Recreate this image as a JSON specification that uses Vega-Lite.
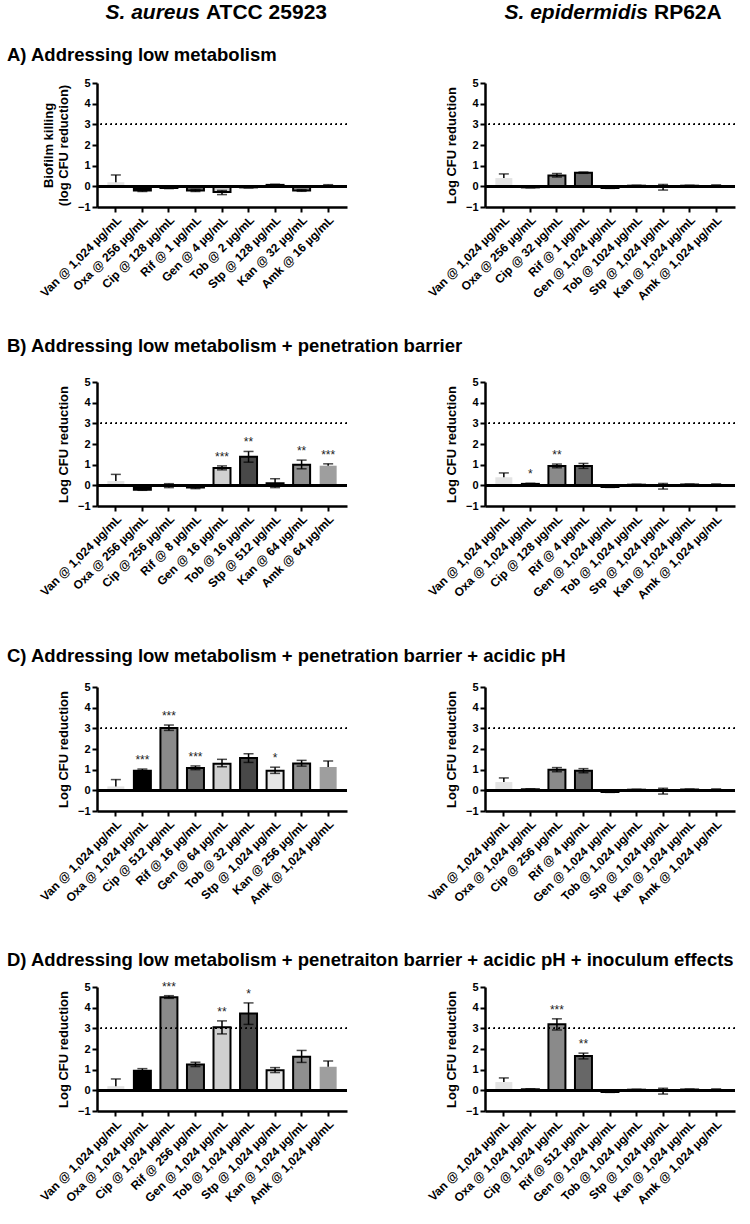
{
  "$schema": "https://vega.github.io/schema/vega-lite/v6.json",
  "padding": {"left": 7, "top": 1, "right": 5, "bottom": 5},
  "background": "white",
  "config": {
    "font": "Liberation Sans",
    "view": {"stroke": null},
    "axis": {"domainColor": "black", "domainWidth": 2.5, "tickColor": "black", "tickWidth": 2, "tickSize": 5, "labelColor": "black", "labelFontWeight": "bold", "titleFontWeight": "bold", "titleColor": "black", "grid": false},
    "axisY": {"labelFontSize": 11, "titleFontSize": 13, "labelPadding": 2, "titlePadding": 7},
    "axisX": {"labelAngle": -45, "labelFontSize": 12, "labelPadding": 2},
    "scale": {"bandPaddingInner": 0.36, "bandPaddingOuter": 0.39},
    "title": {"fontSize": 18.5, "fontWeight": "bold", "anchor": "start", "frame": "group", "dx": -90, "color": "black", "offset": 8}
  },
  "datasets": {
    "aA": [
      {"drug": "Van", "label": "Van @ 1,024 µg/mL", "mean": 0.2, "lo": 0.2, "hi": 0.55, "sig": ""},
      {"drug": "Oxa", "label": "Oxa @ 256 µg/mL", "mean": -0.2, "lo": -0.25, "hi": -0.15, "sig": ""},
      {"drug": "Cip", "label": "Cip @ 128 µg/mL", "mean": -0.08, "lo": -0.11, "hi": -0.05, "sig": ""},
      {"drug": "Rif", "label": "Rif @ 1 µg/mL", "mean": -0.2, "lo": -0.25, "hi": -0.15, "sig": ""},
      {"drug": "Gen", "label": "Gen @ 4 µg/mL", "mean": -0.28, "lo": -0.4, "hi": -0.2, "sig": ""},
      {"drug": "Tob", "label": "Tob @ 2 µg/mL", "mean": -0.05, "lo": -0.08, "hi": -0.03, "sig": ""},
      {"drug": "Stp", "label": "Stp @ 128 µg/mL", "mean": 0.07, "lo": 0.04, "hi": 0.1, "sig": ""},
      {"drug": "Kan", "label": "Kan @ 32 µg/mL", "mean": -0.2, "lo": -0.24, "hi": -0.16, "sig": ""},
      {"drug": "Amk", "label": "Amk @ 16 µg/mL", "mean": 0.05, "lo": 0.05, "hi": 0.08, "sig": ""}
    ],
    "eA": [
      {"drug": "Van", "label": "Van @ 1,024 µg/mL", "mean": 0.4, "lo": 0.4, "hi": 0.6, "sig": ""},
      {"drug": "Oxa", "label": "Oxa @ 256 µg/mL", "mean": -0.05, "lo": -0.07, "hi": -0.03, "sig": ""},
      {"drug": "Cip", "label": "Cip @ 32 µg/mL", "mean": 0.52, "lo": 0.45, "hi": 0.62, "sig": ""},
      {"drug": "Rif", "label": "Rif @ 1 µg/mL", "mean": 0.66, "lo": 0.63, "hi": 0.69, "sig": ""},
      {"drug": "Gen", "label": "Gen @ 1,024 µg/mL", "mean": -0.08, "lo": -0.1, "hi": -0.06, "sig": ""},
      {"drug": "Tob", "label": "Tob @ 1024 µg/mL", "mean": 0.03, "lo": 0.01, "hi": 0.05, "sig": ""},
      {"drug": "Stp", "label": "Stp @ 1,024 µg/mL", "mean": 0.0, "lo": -0.18, "hi": 0.09, "sig": ""},
      {"drug": "Kan", "label": "Kan @ 1,024 µg/mL", "mean": 0.03, "lo": 0.01, "hi": 0.05, "sig": ""},
      {"drug": "Amk", "label": "Amk @ 1,024 µg/mL", "mean": 0.05, "lo": 0.05, "hi": 0.07, "sig": ""}
    ],
    "aB": [
      {"drug": "Van", "label": "Van @ 1,024 µg/mL", "mean": 0.21, "lo": 0.21, "hi": 0.53, "sig": ""},
      {"drug": "Oxa", "label": "Oxa @ 256 µg/mL", "mean": -0.21, "lo": -0.24, "hi": -0.18, "sig": ""},
      {"drug": "Cip", "label": "Cip @ 256 µg/mL", "mean": -0.02, "lo": -0.11, "hi": 0.08, "sig": ""},
      {"drug": "Rif", "label": "Rif @ 8 µg/mL", "mean": -0.1, "lo": -0.16, "hi": -0.05, "sig": ""},
      {"drug": "Gen", "label": "Gen @ 16 µg/mL", "mean": 0.84, "lo": 0.75, "hi": 0.94, "sig": "***"},
      {"drug": "Tob", "label": "Tob @ 16 µg/mL", "mean": 1.38, "lo": 1.12, "hi": 1.64, "sig": "**"},
      {"drug": "Stp", "label": "Stp @ 512 µg/mL", "mean": 0.1, "lo": -0.11, "hi": 0.32, "sig": ""},
      {"drug": "Kan", "label": "Kan @ 64 µg/mL", "mean": 1.0, "lo": 0.8, "hi": 1.22, "sig": "**"},
      {"drug": "Amk", "label": "Amk @ 64 µg/mL", "mean": 0.95, "lo": 0.95, "hi": 1.04, "sig": "***"}
    ],
    "eB": [
      {"drug": "Van", "label": "Van @ 1,024 µg/mL", "mean": 0.39, "lo": 0.39, "hi": 0.6, "sig": ""},
      {"drug": "Oxa", "label": "Oxa @ 1,024 µg/mL", "mean": 0.07, "lo": 0.04, "hi": 0.1, "sig": "*"},
      {"drug": "Cip", "label": "Cip @ 128 µg/mL", "mean": 0.93, "lo": 0.85, "hi": 1.03, "sig": "**"},
      {"drug": "Rif", "label": "Rif @ 4 µg/mL", "mean": 0.93, "lo": 0.82, "hi": 1.06, "sig": ""},
      {"drug": "Gen", "label": "Gen @ 1,024 µg/mL", "mean": -0.08, "lo": -0.1, "hi": -0.06, "sig": ""},
      {"drug": "Tob", "label": "Tob @ 1,024 µg/mL", "mean": 0.03, "lo": 0.01, "hi": 0.05, "sig": ""},
      {"drug": "Stp", "label": "Stp @ 1,024 µg/mL", "mean": 0.0, "lo": -0.18, "hi": 0.09, "sig": ""},
      {"drug": "Kan", "label": "Kan @ 1,024 µg/mL", "mean": 0.04, "lo": 0.02, "hi": 0.06, "sig": ""},
      {"drug": "Amk", "label": "Amk @ 1,024 µg/mL", "mean": 0.05, "lo": 0.05, "hi": 0.07, "sig": ""}
    ],
    "aC": [
      {"drug": "Van", "label": "Van @ 1,024 µg/mL", "mean": 0.19, "lo": 0.19, "hi": 0.52, "sig": ""},
      {"drug": "Oxa", "label": "Oxa @ 1,024 µg/mL", "mean": 0.95, "lo": 0.88, "hi": 1.03, "sig": "***"},
      {"drug": "Cip", "label": "Cip @ 512 µg/mL", "mean": 3.02, "lo": 2.9, "hi": 3.16, "sig": "***"},
      {"drug": "Rif", "label": "Rif @ 16 µg/mL", "mean": 1.08, "lo": 1.0, "hi": 1.18, "sig": "***"},
      {"drug": "Gen", "label": "Gen @ 64 µg/mL", "mean": 1.29, "lo": 1.14, "hi": 1.5, "sig": ""},
      {"drug": "Tob", "label": "Tob @ 32 µg/mL", "mean": 1.56, "lo": 1.35, "hi": 1.77, "sig": ""},
      {"drug": "Stp", "label": "Stp @ 1,024 µg/mL", "mean": 0.95, "lo": 0.82, "hi": 1.12, "sig": "*"},
      {"drug": "Kan", "label": "Kan @ 256 µg/mL", "mean": 1.3, "lo": 1.17, "hi": 1.45, "sig": ""},
      {"drug": "Amk", "label": "Amk @ 1,024 µg/mL", "mean": 1.13, "lo": 1.13, "hi": 1.42, "sig": ""}
    ],
    "eC": [
      {"drug": "Van", "label": "Van @ 1,024 µg/mL", "mean": 0.4, "lo": 0.4, "hi": 0.6, "sig": ""},
      {"drug": "Oxa", "label": "Oxa @ 1,024 µg/mL", "mean": 0.05, "lo": 0.03, "hi": 0.07, "sig": ""},
      {"drug": "Cip", "label": "Cip @ 256 µg/mL", "mean": 1.0, "lo": 0.9, "hi": 1.1, "sig": ""},
      {"drug": "Rif", "label": "Rif @ 4 µg/mL", "mean": 0.95, "lo": 0.85, "hi": 1.05, "sig": ""},
      {"drug": "Gen", "label": "Gen @ 1,024 µg/mL", "mean": -0.08, "lo": -0.1, "hi": -0.06, "sig": ""},
      {"drug": "Tob", "label": "Tob @ 1,024 µg/mL", "mean": 0.03, "lo": 0.01, "hi": 0.05, "sig": ""},
      {"drug": "Stp", "label": "Stp @ 1,024 µg/mL", "mean": 0.0, "lo": -0.18, "hi": 0.1, "sig": ""},
      {"drug": "Kan", "label": "Kan @ 1,024 µg/mL", "mean": 0.04, "lo": 0.02, "hi": 0.06, "sig": ""},
      {"drug": "Amk", "label": "Amk @ 1,024 µg/mL", "mean": 0.05, "lo": 0.05, "hi": 0.07, "sig": ""}
    ],
    "aD": [
      {"drug": "Van", "label": "Van @ 1,024 µg/mL", "mean": 0.2, "lo": 0.2, "hi": 0.55, "sig": ""},
      {"drug": "Oxa", "label": "Oxa @ 1,024 µg/mL", "mean": 0.95, "lo": 0.85, "hi": 1.05, "sig": ""},
      {"drug": "Cip", "label": "Cip @ 1,024 µg/mL", "mean": 4.51, "lo": 4.45, "hi": 4.58, "sig": "***"},
      {"drug": "Rif", "label": "Rif @ 256 µg/mL", "mean": 1.25, "lo": 1.15, "hi": 1.36, "sig": ""},
      {"drug": "Gen", "label": "Gen @ 1,024 µg/mL", "mean": 3.05, "lo": 2.73, "hi": 3.36, "sig": "**"},
      {"drug": "Tob", "label": "Tob @ 1,024 µg/mL", "mean": 3.72, "lo": 3.19, "hi": 4.23, "sig": "*"},
      {"drug": "Stp", "label": "Stp @ 1,024 µg/mL", "mean": 0.97, "lo": 0.86, "hi": 1.1, "sig": ""},
      {"drug": "Kan", "label": "Kan @ 1,024 µg/mL", "mean": 1.63, "lo": 1.35, "hi": 1.93, "sig": ""},
      {"drug": "Amk", "label": "Amk @ 1,024 µg/mL", "mean": 1.14, "lo": 1.14, "hi": 1.42, "sig": ""}
    ],
    "eD": [
      {"drug": "Van", "label": "Van @ 1,024 µg/mL", "mean": 0.4, "lo": 0.4, "hi": 0.6, "sig": ""},
      {"drug": "Oxa", "label": "Oxa @ 1,024 µg/mL", "mean": 0.05, "lo": 0.03, "hi": 0.07, "sig": ""},
      {"drug": "Cip", "label": "Cip @ 1,024 µg/mL", "mean": 3.2, "lo": 2.92, "hi": 3.46, "sig": "***"},
      {"drug": "Rif", "label": "Rif @ 512 µg/mL", "mean": 1.66, "lo": 1.52, "hi": 1.8, "sig": "**"},
      {"drug": "Gen", "label": "Gen @ 1,024 µg/mL", "mean": -0.08, "lo": -0.1, "hi": -0.06, "sig": ""},
      {"drug": "Tob", "label": "Tob @ 1,024 µg/mL", "mean": 0.03, "lo": 0.01, "hi": 0.05, "sig": ""},
      {"drug": "Stp", "label": "Stp @ 1,024 µg/mL", "mean": 0.0, "lo": -0.18, "hi": 0.1, "sig": ""},
      {"drug": "Kan", "label": "Kan @ 1,024 µg/mL", "mean": 0.04, "lo": 0.02, "hi": 0.06, "sig": ""},
      {"drug": "Amk", "label": "Amk @ 1,024 µg/mL", "mean": 0.05, "lo": 0.05, "hi": 0.07, "sig": ""}
    ]
  },
  "spacing": 45,
  "vconcat": [
    {
      "spacing": 34,
      "vconcat": [
        {
          "spacing": 22,
          "vconcat": [
            {
              "bounds": "flush",
              "spacing": 138,
              "hconcat": [
                {
                  "width": 250, "height": 1,
                  "data": {"values": [{"species": "S. aureus", "strain": "ATCC 25923"}]},
                  "layer": [
                    {"mark": {"type": "text", "align": "right", "dx": -22, "fontSize": 21, "fontWeight": "bold", "fontStyle": "italic", "color": "black"}, "encoding": {"text": {"field": "species"}}},
                    {"mark": {"type": "text", "align": "left", "dx": -16, "fontSize": 21, "fontWeight": "bold", "color": "black"}, "encoding": {"text": {"field": "strain"}}}
                  ]
                },
                {
                  "width": 250, "height": 1,
                  "data": {"values": [{"species": "S. epidermidis", "strain": "RP62A"}]},
                  "layer": [
                    {"mark": {"type": "text", "align": "right", "dx": 38, "fontSize": 21, "fontWeight": "bold", "fontStyle": "italic", "color": "black"}, "encoding": {"text": {"field": "species"}}},
                    {"mark": {"type": "text", "align": "left", "dx": 44, "fontSize": 21, "fontWeight": "bold", "color": "black"}, "encoding": {"text": {"field": "strain"}}}
                  ]
                }
              ]
            },
            {
              "bounds": "flush",
              "spacing": 138,
              "title": {"text": "A) Addressing low metabolism", "offset": 13},
              "hconcat": [
                {
                  "width": 250, "height": 124, "data": {"name": "aA"},
                  "layer": [
                    {"mark": {"type": "bar", "stroke": "black"}, "encoding": {"x": {"field": "label", "type": "nominal", "sort": null, "title": null}, "y": {"field": "mean", "type": "quantitative", "scale": {"domain": [-1, 5], "nice": false, "zero": false}, "axis": {"values": [-1, 0, 1, 2, 3, 4, 5], "tickCount": 10, "format": "d", "labelOverlap": false}, "title": ["Biofilm killing", "(log CFU reduction)"]}, "color": {"field": "drug", "type": "nominal", "scale": {"domain": ["Van", "Oxa", "Cip", "Rif", "Gen", "Tob", "Stp", "Kan", "Amk"], "range": ["#e4e4e4", "#000000", "#8a8a8a", "#676767", "#d0d0d0", "#484848", "#e6e6e6", "#8f8f8f", "#9e9e9e"]}, "legend": null}, "strokeWidth": {"condition": {"test": "datum.drug === 'Van' || datum.drug === 'Amk'", "value": 0}, "value": 2}}},
                    {"mark": {"type": "rule", "color": "black", "strokeWidth": 2.5}, "encoding": {"y": {"datum": 0, "title": ["Biofilm killing", "(log CFU reduction)"]}}},
                    {"mark": {"type": "rule", "color": "black", "strokeWidth": 1.3, "strokeDash": [1.3, 3.7]}, "encoding": {"y": {"datum": 3, "title": ["Biofilm killing", "(log CFU reduction)"]}}},
                    {"mark": {"type": "rule", "color": "black", "strokeWidth": 1.5}, "encoding": {"x": {"field": "label", "type": "nominal", "sort": null, "title": null}, "y": {"field": "lo", "type": "quantitative", "title": ["Biofilm killing", "(log CFU reduction)"]}, "y2": {"field": "hi"}}},
                    {"mark": {"type": "tick", "color": "black", "size": 10, "thickness": 1.5, "orient": "horizontal"}, "encoding": {"x": {"field": "label", "type": "nominal", "sort": null, "title": null}, "y": {"field": "hi", "type": "quantitative", "title": ["Biofilm killing", "(log CFU reduction)"]}}},
                    {"transform": [{"filter": "datum.drug !== 'Van' && datum.drug !== 'Amk'"}], "mark": {"type": "tick", "color": "black", "size": 10, "thickness": 1.5, "orient": "horizontal"}, "encoding": {"x": {"field": "label", "type": "nominal", "sort": null, "title": null}, "y": {"field": "lo", "type": "quantitative", "title": ["Biofilm killing", "(log CFU reduction)"]}}},
                    {"mark": {"type": "text", "dy": -5, "baseline": "alphabetic", "fontSize": 12, "color": "#222222"}, "encoding": {"x": {"field": "label", "type": "nominal", "sort": null, "title": null}, "y": {"field": "hi", "type": "quantitative", "title": ["Biofilm killing", "(log CFU reduction)"]}, "text": {"field": "sig"}}}
                  ]
                },
                {
                  "width": 250, "height": 124, "data": {"name": "eA"},
                  "layer": [
                    {"mark": {"type": "bar", "stroke": "black"}, "encoding": {"x": {"field": "label", "type": "nominal", "sort": null, "title": null}, "y": {"field": "mean", "type": "quantitative", "scale": {"domain": [-1, 5], "nice": false, "zero": false}, "axis": {"values": [-1, 0, 1, 2, 3, 4, 5], "tickCount": 10, "format": "d", "labelOverlap": false}, "title": "Log CFU reduction"}, "color": {"field": "drug", "type": "nominal", "scale": {"domain": ["Van", "Oxa", "Cip", "Rif", "Gen", "Tob", "Stp", "Kan", "Amk"], "range": ["#e4e4e4", "#000000", "#8a8a8a", "#676767", "#d0d0d0", "#484848", "#e6e6e6", "#8f8f8f", "#9e9e9e"]}, "legend": null}, "strokeWidth": {"condition": {"test": "datum.drug === 'Van' || datum.drug === 'Amk'", "value": 0}, "value": 2}}},
                    {"mark": {"type": "rule", "color": "black", "strokeWidth": 2.5}, "encoding": {"y": {"datum": 0, "title": "Log CFU reduction"}}},
                    {"mark": {"type": "rule", "color": "black", "strokeWidth": 1.3, "strokeDash": [1.3, 3.7]}, "encoding": {"y": {"datum": 3, "title": "Log CFU reduction"}}},
                    {"mark": {"type": "rule", "color": "black", "strokeWidth": 1.5}, "encoding": {"x": {"field": "label", "type": "nominal", "sort": null, "title": null}, "y": {"field": "lo", "type": "quantitative", "title": "Log CFU reduction"}, "y2": {"field": "hi"}}},
                    {"mark": {"type": "tick", "color": "black", "size": 10, "thickness": 1.5, "orient": "horizontal"}, "encoding": {"x": {"field": "label", "type": "nominal", "sort": null, "title": null}, "y": {"field": "hi", "type": "quantitative", "title": "Log CFU reduction"}}},
                    {"transform": [{"filter": "datum.drug !== 'Van' && datum.drug !== 'Amk'"}], "mark": {"type": "tick", "color": "black", "size": 10, "thickness": 1.5, "orient": "horizontal"}, "encoding": {"x": {"field": "label", "type": "nominal", "sort": null, "title": null}, "y": {"field": "lo", "type": "quantitative", "title": "Log CFU reduction"}}},
                    {"mark": {"type": "text", "dy": -5, "baseline": "alphabetic", "fontSize": 12, "color": "#222222"}, "encoding": {"x": {"field": "label", "type": "nominal", "sort": null, "title": null}, "y": {"field": "hi", "type": "quantitative", "title": "Log CFU reduction"}, "text": {"field": "sig"}}}
                  ]
                }
              ]
            }
          ]
        },
        {
          "bounds": "flush",
          "spacing": 138,
          "title": {"text": "B) Addressing low metabolism + penetration barrier", "offset": 21},
          "hconcat": [
            {
              "width": 250, "height": 124, "data": {"name": "aB"},
              "layer": [
                {"mark": {"type": "bar", "stroke": "black"}, "encoding": {"x": {"field": "label", "type": "nominal", "sort": null, "title": null}, "y": {"field": "mean", "type": "quantitative", "scale": {"domain": [-1, 5], "nice": false, "zero": false}, "axis": {"values": [-1, 0, 1, 2, 3, 4, 5], "tickCount": 10, "format": "d", "labelOverlap": false}, "title": "Log CFU reduction"}, "color": {"field": "drug", "type": "nominal", "scale": {"domain": ["Van", "Oxa", "Cip", "Rif", "Gen", "Tob", "Stp", "Kan", "Amk"], "range": ["#e4e4e4", "#000000", "#8a8a8a", "#676767", "#d0d0d0", "#484848", "#e6e6e6", "#8f8f8f", "#9e9e9e"]}, "legend": null}, "strokeWidth": {"condition": {"test": "datum.drug === 'Van' || datum.drug === 'Amk'", "value": 0}, "value": 2}}},
                {"mark": {"type": "rule", "color": "black", "strokeWidth": 2.5}, "encoding": {"y": {"datum": 0, "title": "Log CFU reduction"}}},
                {"mark": {"type": "rule", "color": "black", "strokeWidth": 1.3, "strokeDash": [1.3, 3.7]}, "encoding": {"y": {"datum": 3, "title": "Log CFU reduction"}}},
                {"mark": {"type": "rule", "color": "black", "strokeWidth": 1.5}, "encoding": {"x": {"field": "label", "type": "nominal", "sort": null, "title": null}, "y": {"field": "lo", "type": "quantitative", "title": "Log CFU reduction"}, "y2": {"field": "hi"}}},
                {"mark": {"type": "tick", "color": "black", "size": 10, "thickness": 1.5, "orient": "horizontal"}, "encoding": {"x": {"field": "label", "type": "nominal", "sort": null, "title": null}, "y": {"field": "hi", "type": "quantitative", "title": "Log CFU reduction"}}},
                {"transform": [{"filter": "datum.drug !== 'Van' && datum.drug !== 'Amk'"}], "mark": {"type": "tick", "color": "black", "size": 10, "thickness": 1.5, "orient": "horizontal"}, "encoding": {"x": {"field": "label", "type": "nominal", "sort": null, "title": null}, "y": {"field": "lo", "type": "quantitative", "title": "Log CFU reduction"}}},
                {"mark": {"type": "text", "dy": -5, "baseline": "alphabetic", "fontSize": 12, "color": "#222222"}, "encoding": {"x": {"field": "label", "type": "nominal", "sort": null, "title": null}, "y": {"field": "hi", "type": "quantitative", "title": "Log CFU reduction"}, "text": {"field": "sig"}}}
              ]
            },
            {
              "width": 250, "height": 124, "data": {"name": "eB"},
              "layer": [
                {"mark": {"type": "bar", "stroke": "black"}, "encoding": {"x": {"field": "label", "type": "nominal", "sort": null, "title": null}, "y": {"field": "mean", "type": "quantitative", "scale": {"domain": [-1, 5], "nice": false, "zero": false}, "axis": {"values": [-1, 0, 1, 2, 3, 4, 5], "tickCount": 10, "format": "d", "labelOverlap": false}, "title": "Log CFU reduction"}, "color": {"field": "drug", "type": "nominal", "scale": {"domain": ["Van", "Oxa", "Cip", "Rif", "Gen", "Tob", "Stp", "Kan", "Amk"], "range": ["#e4e4e4", "#000000", "#8a8a8a", "#676767", "#d0d0d0", "#484848", "#e6e6e6", "#8f8f8f", "#9e9e9e"]}, "legend": null}, "strokeWidth": {"condition": {"test": "datum.drug === 'Van' || datum.drug === 'Amk'", "value": 0}, "value": 2}}},
                {"mark": {"type": "rule", "color": "black", "strokeWidth": 2.5}, "encoding": {"y": {"datum": 0, "title": "Log CFU reduction"}}},
                {"mark": {"type": "rule", "color": "black", "strokeWidth": 1.3, "strokeDash": [1.3, 3.7]}, "encoding": {"y": {"datum": 3, "title": "Log CFU reduction"}}},
                {"mark": {"type": "rule", "color": "black", "strokeWidth": 1.5}, "encoding": {"x": {"field": "label", "type": "nominal", "sort": null, "title": null}, "y": {"field": "lo", "type": "quantitative", "title": "Log CFU reduction"}, "y2": {"field": "hi"}}},
                {"mark": {"type": "tick", "color": "black", "size": 10, "thickness": 1.5, "orient": "horizontal"}, "encoding": {"x": {"field": "label", "type": "nominal", "sort": null, "title": null}, "y": {"field": "hi", "type": "quantitative", "title": "Log CFU reduction"}}},
                {"transform": [{"filter": "datum.drug !== 'Van' && datum.drug !== 'Amk'"}], "mark": {"type": "tick", "color": "black", "size": 10, "thickness": 1.5, "orient": "horizontal"}, "encoding": {"x": {"field": "label", "type": "nominal", "sort": null, "title": null}, "y": {"field": "lo", "type": "quantitative", "title": "Log CFU reduction"}}},
                {"mark": {"type": "text", "dy": -5, "baseline": "alphabetic", "fontSize": 12, "color": "#222222"}, "encoding": {"x": {"field": "label", "type": "nominal", "sort": null, "title": null}, "y": {"field": "hi", "type": "quantitative", "title": "Log CFU reduction"}, "text": {"field": "sig"}}}
              ]
            }
          ]
        }
      ]
    },
    {
      "bounds": "flush",
      "spacing": 138,
      "title": {"text": "C) Addressing low metabolism + penetration barrier + acidic pH", "offset": 16},
      "hconcat": [
        {
          "width": 250, "height": 124, "data": {"name": "aC"},
          "layer": [
            {"mark": {"type": "bar", "stroke": "black"}, "encoding": {"x": {"field": "label", "type": "nominal", "sort": null, "title": null}, "y": {"field": "mean", "type": "quantitative", "scale": {"domain": [-1, 5], "nice": false, "zero": false}, "axis": {"values": [-1, 0, 1, 2, 3, 4, 5], "tickCount": 10, "format": "d", "labelOverlap": false}, "title": "Log CFU reduction"}, "color": {"field": "drug", "type": "nominal", "scale": {"domain": ["Van", "Oxa", "Cip", "Rif", "Gen", "Tob", "Stp", "Kan", "Amk"], "range": ["#e4e4e4", "#000000", "#8a8a8a", "#676767", "#d0d0d0", "#484848", "#e6e6e6", "#8f8f8f", "#9e9e9e"]}, "legend": null}, "strokeWidth": {"condition": {"test": "datum.drug === 'Van' || datum.drug === 'Amk'", "value": 0}, "value": 2}}},
            {"mark": {"type": "rule", "color": "black", "strokeWidth": 2.5}, "encoding": {"y": {"datum": 0, "title": "Log CFU reduction"}}},
            {"mark": {"type": "rule", "color": "black", "strokeWidth": 1.3, "strokeDash": [1.3, 3.7]}, "encoding": {"y": {"datum": 3, "title": "Log CFU reduction"}}},
            {"mark": {"type": "rule", "color": "black", "strokeWidth": 1.5}, "encoding": {"x": {"field": "label", "type": "nominal", "sort": null, "title": null}, "y": {"field": "lo", "type": "quantitative", "title": "Log CFU reduction"}, "y2": {"field": "hi"}}},
            {"mark": {"type": "tick", "color": "black", "size": 10, "thickness": 1.5, "orient": "horizontal"}, "encoding": {"x": {"field": "label", "type": "nominal", "sort": null, "title": null}, "y": {"field": "hi", "type": "quantitative", "title": "Log CFU reduction"}}},
            {"transform": [{"filter": "datum.drug !== 'Van' && datum.drug !== 'Amk'"}], "mark": {"type": "tick", "color": "black", "size": 10, "thickness": 1.5, "orient": "horizontal"}, "encoding": {"x": {"field": "label", "type": "nominal", "sort": null, "title": null}, "y": {"field": "lo", "type": "quantitative", "title": "Log CFU reduction"}}},
            {"mark": {"type": "text", "dy": -5, "baseline": "alphabetic", "fontSize": 12, "color": "#222222"}, "encoding": {"x": {"field": "label", "type": "nominal", "sort": null, "title": null}, "y": {"field": "hi", "type": "quantitative", "title": "Log CFU reduction"}, "text": {"field": "sig"}}}
          ]
        },
        {
          "width": 250, "height": 124, "data": {"name": "eC"},
          "layer": [
            {"mark": {"type": "bar", "stroke": "black"}, "encoding": {"x": {"field": "label", "type": "nominal", "sort": null, "title": null}, "y": {"field": "mean", "type": "quantitative", "scale": {"domain": [-1, 5], "nice": false, "zero": false}, "axis": {"values": [-1, 0, 1, 2, 3, 4, 5], "tickCount": 10, "format": "d", "labelOverlap": false}, "title": "Log CFU reduction"}, "color": {"field": "drug", "type": "nominal", "scale": {"domain": ["Van", "Oxa", "Cip", "Rif", "Gen", "Tob", "Stp", "Kan", "Amk"], "range": ["#e4e4e4", "#000000", "#8a8a8a", "#676767", "#d0d0d0", "#484848", "#e6e6e6", "#8f8f8f", "#9e9e9e"]}, "legend": null}, "strokeWidth": {"condition": {"test": "datum.drug === 'Van' || datum.drug === 'Amk'", "value": 0}, "value": 2}}},
            {"mark": {"type": "rule", "color": "black", "strokeWidth": 2.5}, "encoding": {"y": {"datum": 0, "title": "Log CFU reduction"}}},
            {"mark": {"type": "rule", "color": "black", "strokeWidth": 1.3, "strokeDash": [1.3, 3.7]}, "encoding": {"y": {"datum": 3, "title": "Log CFU reduction"}}},
            {"mark": {"type": "rule", "color": "black", "strokeWidth": 1.5}, "encoding": {"x": {"field": "label", "type": "nominal", "sort": null, "title": null}, "y": {"field": "lo", "type": "quantitative", "title": "Log CFU reduction"}, "y2": {"field": "hi"}}},
            {"mark": {"type": "tick", "color": "black", "size": 10, "thickness": 1.5, "orient": "horizontal"}, "encoding": {"x": {"field": "label", "type": "nominal", "sort": null, "title": null}, "y": {"field": "hi", "type": "quantitative", "title": "Log CFU reduction"}}},
            {"transform": [{"filter": "datum.drug !== 'Van' && datum.drug !== 'Amk'"}], "mark": {"type": "tick", "color": "black", "size": 10, "thickness": 1.5, "orient": "horizontal"}, "encoding": {"x": {"field": "label", "type": "nominal", "sort": null, "title": null}, "y": {"field": "lo", "type": "quantitative", "title": "Log CFU reduction"}}},
            {"mark": {"type": "text", "dy": -5, "baseline": "alphabetic", "fontSize": 12, "color": "#222222"}, "encoding": {"x": {"field": "label", "type": "nominal", "sort": null, "title": null}, "y": {"field": "hi", "type": "quantitative", "title": "Log CFU reduction"}, "text": {"field": "sig"}}}
          ]
        }
      ]
    },
    {
      "bounds": "flush",
      "spacing": 138,
      "title": {"text": "D) Addressing low metabolism + penetraiton barrier + acidic pH + inoculum effects", "offset": 11},
      "hconcat": [
        {
          "width": 250, "height": 124, "data": {"name": "aD"},
          "layer": [
            {"mark": {"type": "bar", "stroke": "black"}, "encoding": {"x": {"field": "label", "type": "nominal", "sort": null, "title": null}, "y": {"field": "mean", "type": "quantitative", "scale": {"domain": [-1, 5], "nice": false, "zero": false}, "axis": {"values": [-1, 0, 1, 2, 3, 4, 5], "tickCount": 10, "format": "d", "labelOverlap": false}, "title": "Log CFU reduction"}, "color": {"field": "drug", "type": "nominal", "scale": {"domain": ["Van", "Oxa", "Cip", "Rif", "Gen", "Tob", "Stp", "Kan", "Amk"], "range": ["#e4e4e4", "#000000", "#8a8a8a", "#676767", "#d0d0d0", "#484848", "#e6e6e6", "#8f8f8f", "#9e9e9e"]}, "legend": null}, "strokeWidth": {"condition": {"test": "datum.drug === 'Van' || datum.drug === 'Amk'", "value": 0}, "value": 2}}},
            {"mark": {"type": "rule", "color": "black", "strokeWidth": 2.5}, "encoding": {"y": {"datum": 0, "title": "Log CFU reduction"}}},
            {"mark": {"type": "rule", "color": "black", "strokeWidth": 1.3, "strokeDash": [1.3, 3.7]}, "encoding": {"y": {"datum": 3, "title": "Log CFU reduction"}}},
            {"mark": {"type": "rule", "color": "black", "strokeWidth": 1.5}, "encoding": {"x": {"field": "label", "type": "nominal", "sort": null, "title": null}, "y": {"field": "lo", "type": "quantitative", "title": "Log CFU reduction"}, "y2": {"field": "hi"}}},
            {"mark": {"type": "tick", "color": "black", "size": 10, "thickness": 1.5, "orient": "horizontal"}, "encoding": {"x": {"field": "label", "type": "nominal", "sort": null, "title": null}, "y": {"field": "hi", "type": "quantitative", "title": "Log CFU reduction"}}},
            {"transform": [{"filter": "datum.drug !== 'Van' && datum.drug !== 'Amk'"}], "mark": {"type": "tick", "color": "black", "size": 10, "thickness": 1.5, "orient": "horizontal"}, "encoding": {"x": {"field": "label", "type": "nominal", "sort": null, "title": null}, "y": {"field": "lo", "type": "quantitative", "title": "Log CFU reduction"}}},
            {"mark": {"type": "text", "dy": -5, "baseline": "alphabetic", "fontSize": 12, "color": "#222222"}, "encoding": {"x": {"field": "label", "type": "nominal", "sort": null, "title": null}, "y": {"field": "hi", "type": "quantitative", "title": "Log CFU reduction"}, "text": {"field": "sig"}}}
          ]
        },
        {
          "width": 250, "height": 124, "data": {"name": "eD"},
          "layer": [
            {"mark": {"type": "bar", "stroke": "black"}, "encoding": {"x": {"field": "label", "type": "nominal", "sort": null, "title": null}, "y": {"field": "mean", "type": "quantitative", "scale": {"domain": [-1, 5], "nice": false, "zero": false}, "axis": {"values": [-1, 0, 1, 2, 3, 4, 5], "tickCount": 10, "format": "d", "labelOverlap": false}, "title": "Log CFU reduction"}, "color": {"field": "drug", "type": "nominal", "scale": {"domain": ["Van", "Oxa", "Cip", "Rif", "Gen", "Tob", "Stp", "Kan", "Amk"], "range": ["#e4e4e4", "#000000", "#8a8a8a", "#676767", "#d0d0d0", "#484848", "#e6e6e6", "#8f8f8f", "#9e9e9e"]}, "legend": null}, "strokeWidth": {"condition": {"test": "datum.drug === 'Van' || datum.drug === 'Amk'", "value": 0}, "value": 2}}},
            {"mark": {"type": "rule", "color": "black", "strokeWidth": 2.5}, "encoding": {"y": {"datum": 0, "title": "Log CFU reduction"}}},
            {"mark": {"type": "rule", "color": "black", "strokeWidth": 1.3, "strokeDash": [1.3, 3.7]}, "encoding": {"y": {"datum": 3, "title": "Log CFU reduction"}}},
            {"mark": {"type": "rule", "color": "black", "strokeWidth": 1.5}, "encoding": {"x": {"field": "label", "type": "nominal", "sort": null, "title": null}, "y": {"field": "lo", "type": "quantitative", "title": "Log CFU reduction"}, "y2": {"field": "hi"}}},
            {"mark": {"type": "tick", "color": "black", "size": 10, "thickness": 1.5, "orient": "horizontal"}, "encoding": {"x": {"field": "label", "type": "nominal", "sort": null, "title": null}, "y": {"field": "hi", "type": "quantitative", "title": "Log CFU reduction"}}},
            {"transform": [{"filter": "datum.drug !== 'Van' && datum.drug !== 'Amk'"}], "mark": {"type": "tick", "color": "black", "size": 10, "thickness": 1.5, "orient": "horizontal"}, "encoding": {"x": {"field": "label", "type": "nominal", "sort": null, "title": null}, "y": {"field": "lo", "type": "quantitative", "title": "Log CFU reduction"}}},
            {"mark": {"type": "text", "dy": -5, "baseline": "alphabetic", "fontSize": 12, "color": "#222222"}, "encoding": {"x": {"field": "label", "type": "nominal", "sort": null, "title": null}, "y": {"field": "hi", "type": "quantitative", "title": "Log CFU reduction"}, "text": {"field": "sig"}}}
          ]
        }
      ]
    }
  ]
}
